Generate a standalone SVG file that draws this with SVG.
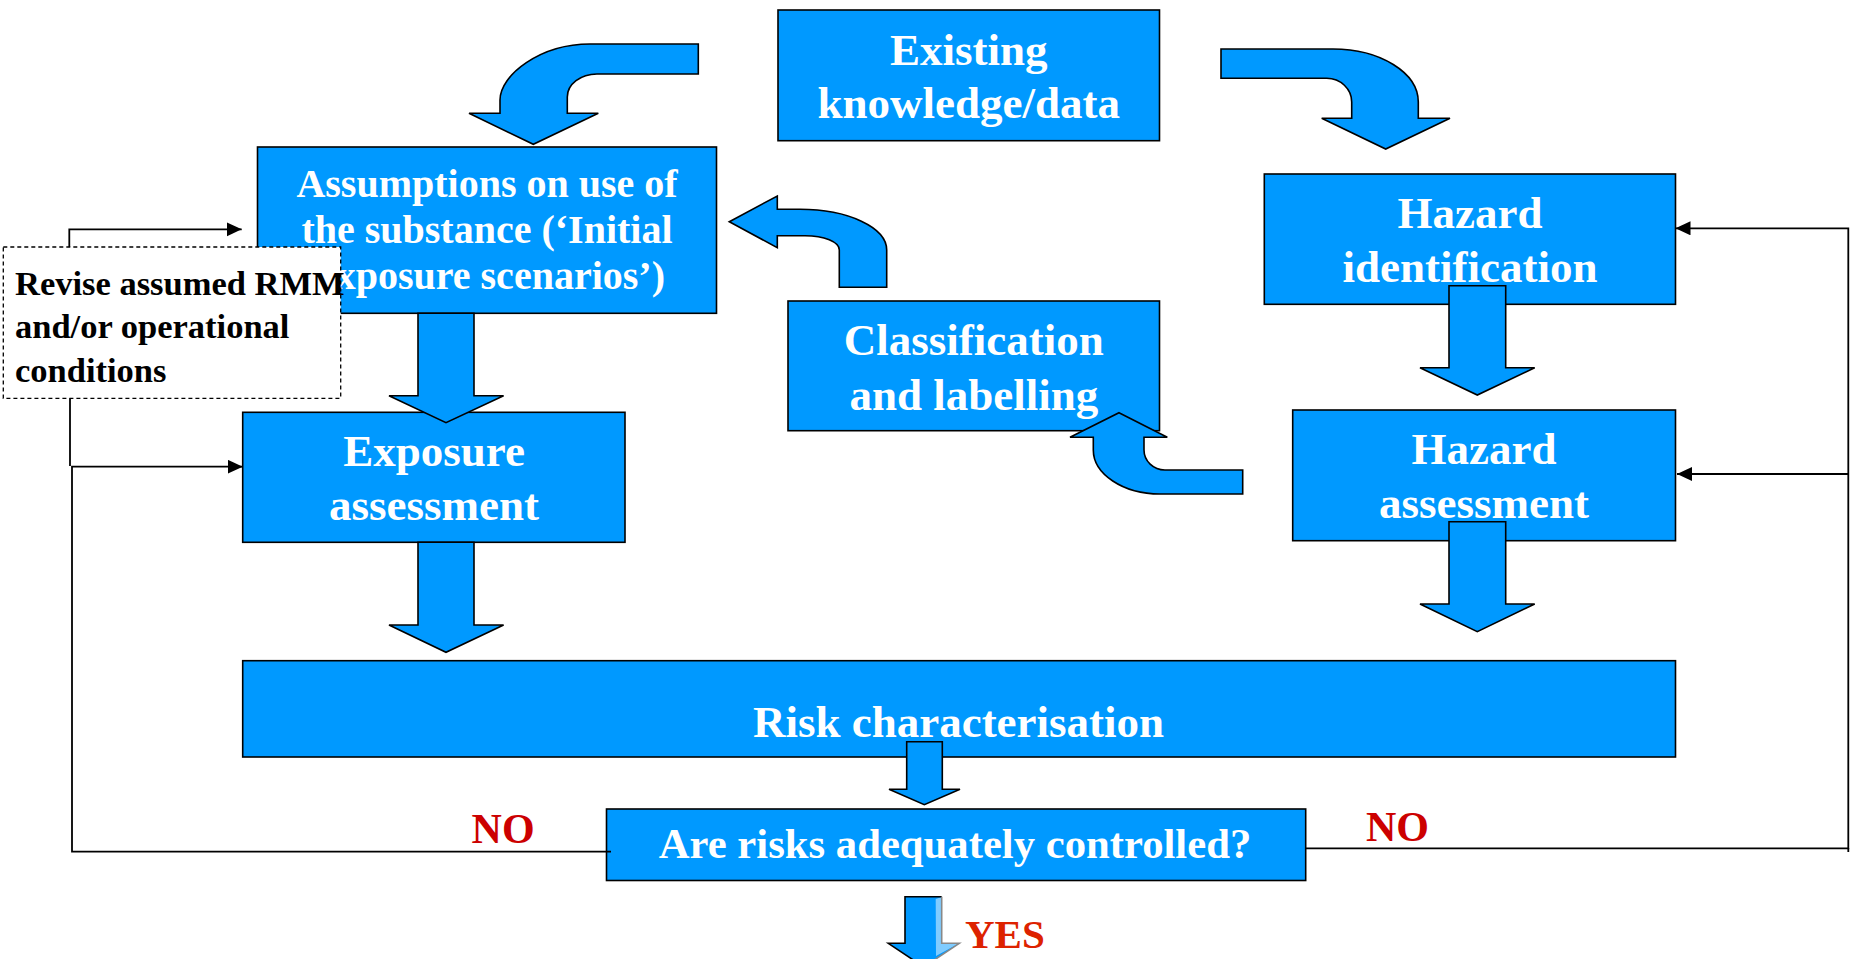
<svg xmlns="http://www.w3.org/2000/svg" width="1854" height="959" viewBox="0 0 1854 959">
<style>
.box{fill:#0099FF;stroke:#000;stroke-width:1.6}
.blk{fill:#0099FF;stroke:#000;stroke-width:1.6;stroke-linejoin:miter}
.t{font-family:"Liberation Serif","Times New Roman",serif;font-weight:bold;fill:#fff;text-anchor:middle}
.t45{font-size:45px}
.t40{font-size:40px}
.t42{font-size:42.7px}
.dk{font-family:"Liberation Serif","Times New Roman",serif;font-weight:bold;fill:#000;font-size:34.5px}
.no{font-family:"Liberation Serif","Times New Roman",serif;font-weight:bold;fill:#CC0000;font-size:42px}
.yes{font-family:"Liberation Serif","Times New Roman",serif;font-weight:bold;fill:#DD2200;font-size:41px}
.ln{fill:none;stroke:#000;stroke-width:1.8}
</style>
<defs>
<marker id="ah" markerUnits="userSpaceOnUse" markerWidth="16" markerHeight="16" refX="15" refY="7" orient="auto">
<path d="M0,0 L15,7 L0,14 Z" fill="#000"/>
</marker>
</defs>
<rect width="1854" height="959" fill="#fff"/>

<g id="existing">
<rect class="box" x="778" y="10" width="381.5" height="130.7"/>
<text class="t t45" x="968.8" y="65">Existing</text>
<text class="t t45" x="968.8" y="118.3">knowledge/data</text>
</g>

<g id="assumptions">
<rect class="box" x="257.5" y="147" width="459" height="166.3"/>
<text class="t t40" x="487" y="197">Assumptions on use of</text>
<text class="t t40" x="487" y="243">the substance (‘Initial</text>
<text class="t t40" x="487" y="289">Exposure scenarios’)</text>
</g>

<g id="hazard-identification">
<rect class="box" x="1264.3" y="174" width="411.2" height="130.3"/>
<text class="t t45" x="1470" y="228.3">Hazard</text>
<text class="t t45" x="1470" y="281.7">identification</text>
</g>

<g id="classification">
<rect class="box" x="788" y="301" width="371.5" height="129.7"/>
<text class="t t45" x="973.8" y="355">Classification</text>
<text class="t t45" x="973.8" y="410">and labelling</text>
</g>

<g id="exposure-assessment">
<rect class="box" x="242.7" y="412.3" width="382.3" height="130"/>
<text class="t t45" x="434" y="466">Exposure</text>
<text class="t t45" x="434" y="520">assessment</text>
</g>

<g id="hazard-assessment">
<rect class="box" x="1292.7" y="410" width="382.8" height="130.7"/>
<text class="t t45" x="1484" y="464.3">Hazard</text>
<text class="t t45" x="1484" y="518.3">assessment</text>
</g>

<g id="risk-characterisation">
<rect class="box" x="242.7" y="660.7" width="1432.8" height="96.3"/>
<text class="t t45" x="958.5" y="736.7">Risk characterisation</text>
</g>

<g id="are-risks-controlled">
<rect class="box" x="606.5" y="809" width="699.2" height="71.5"/>
<text class="t t42" x="955" y="858.3">Are risks adequately controlled?</text>
</g>

<g id="revise-rmm">
<rect x="3.3" y="247" width="337.4" height="151.3" fill="#fff" stroke="#000" stroke-width="1.3" stroke-dasharray="4,3"/>
<text class="dk" x="15" y="295">Revise assumed RMM</text>
<text class="dk" x="15" y="338">and/or operational</text>
<text class="dk" x="15" y="382">conditions</text>
</g>

<g id="block-arrows">
<path class="blk" d="M698.3,44 L590,44 C540.3,44 500,75 500,100 L500,113.3 L469,113.3 L533.3,144.3 L598.3,113.3 L567.3,113.3 L567.3,97 C567.3,84.3 580.6,74 597,74 L698.3,74 Z"/>
<path class="blk" d="M1221,49 L1333,49 C1380,49 1418.3,72.7 1418.3,102 L1418.3,118.3 L1450,118.3 L1385.7,149 L1321.7,118.3 L1351.7,118.3 L1351.7,102 C1351.7,89 1340.5,78.3 1326.7,78.3 L1221,78.3 Z"/>
<path class="blk" d="M729.3,221.7 L777.3,196 L777.3,209.3 L800,209.3 C848,209.3 886.7,227.5 886.7,250 L886.7,287.3 L839.3,287.3 L839.3,250 C839.3,242 824,235.7 805,235.7 L777.3,235.7 L777.3,247.7 Z"/>
<path class="blk" d="M1119,412.7 L1167.3,437.3 L1144,437.3 L1144,450 C1144,461 1153.4,470 1165,470 L1242.7,470 L1242.7,494 L1160,494 C1123,494 1093.3,474 1093.3,450 L1093.3,437.3 L1070,437.3 Z"/>
<path class="blk" d="M418,313.3 L474,313.3 L474,395.7 L503.6,395.7 L446,422.7 L389,395.7 L418,395.7 Z"/>
<path class="blk" d="M418,542.3 L474,542.3 L474,625 L503.6,625 L446,652.3 L389,625 L418,625 Z"/>
<path class="blk" d="M1449,285.7 L1505.7,285.7 L1505.7,367.7 L1534.7,367.7 L1477.3,395 L1420,367.7 L1449,367.7 Z"/>
<path class="blk" d="M1449,521.7 L1505.7,521.7 L1505.7,604 L1534.7,604 L1477.3,631.7 L1420,604 L1449,604 Z"/>
<path class="blk" d="M906.7,741.7 L942.3,741.7 L942.3,789.3 L960,789.3 L924.3,804.7 L889,789.3 L906.7,789.3 Z"/>
<g id="yes-arrow">
<path d="M905,896.7 L941.7,896.7 L941.7,943.3 L959.3,943.3 L923.8,967 L888.3,943.3 L905,943.3 Z" fill="#0099FF" stroke="none"/>
<path d="M935.7,899 L941.7,897 L941.7,943.3 L959.3,943.3 L936,956 Z" fill="#80CCFF" stroke="none"/>
<path d="M941.7,896.7 L905,896.7 L905,943.3 L888.3,943.3 L923.8,967" fill="none" stroke="#000" stroke-width="1.6"/>
<path d="M941.7,896.7 L941.7,943.3 L959.3,943.3 L923.8,967" fill="none" stroke="#888" stroke-width="1.6"/>
</g>
</g>

<g id="connectors">
<polyline class="ln" points="69.3,247 69.3,229.3 241.7,229.3" marker-end="url(#ah)"/>
<line class="ln" x1="70" y1="398.3" x2="70" y2="466"/>
<polyline class="ln" points="611,851.7 72,851.7 72,466.7 242.7,466.7" marker-end="url(#ah)"/>
<polyline class="ln" points="1305.7,848.3 1848.3,848.3 1848.3,228.3 1675.5,228.3" marker-end="url(#ah)"/>
<line class="ln" x1="1848.3" y1="848" x2="1848.3" y2="852"/>
<line class="ln" x1="1848.3" y1="474" x2="1677" y2="474" marker-end="url(#ah)"/>
</g>

<g id="labels">
<text class="no" x="471.6" y="842.7">NO</text>
<text class="no" x="1366" y="840.7">NO</text>
<text class="yes" x="965" y="948.3">YES</text>
</g>
</svg>
